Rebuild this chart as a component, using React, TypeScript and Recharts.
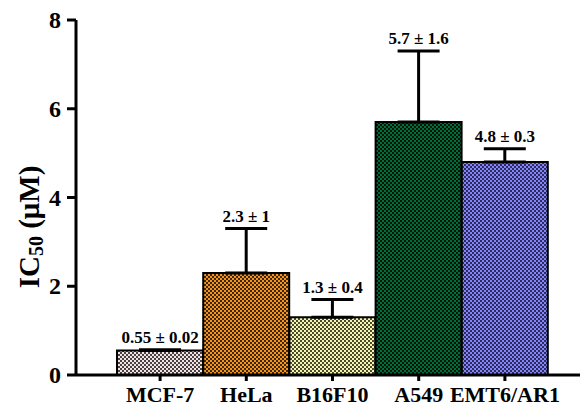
import React from 'react';
import {
  ComposedChart,
  Bar,
  Line,
  XAxis,
  YAxis,
  ErrorBar,
  LabelList,
  Cell,
} from 'recharts';

const cellLines = ['MCF-7', 'HeLa', 'B16F10', 'A549', 'EMT6/AR1'];
const ic50 = [0.55, 2.3, 1.3, 5.7, 4.8];
const sd = [0.02, 1, 0.4, 1.6, 0.3];
const yTicks = [0, 2, 4, 6, 8];

const fills = [
  { bg: '#f0e4e4', dark: '#4a4242' },
  { bg: '#f7941d', dark: '#3c2608' },
  { bg: '#f6f6b4', dark: '#4a4a2c' },
  { bg: '#00703a', dark: '#001408' },
  { bg: '#8484ff', dark: '#2c2c5a' },
];

const data = cellLines.map((name, i) => ({
  name,
  value: ic50[i],
  err: [0, sd[i]],
  top: ic50[i] + sd[i],
  label: `${ic50[i]} ± ${sd[i]}`,
}));

const serif = '"Times New Roman", "Liberation Serif", serif';

const YLabel = () => (
  <text
    x={29}
    y={227}
    transform="rotate(-90 29 227)"
    textAnchor="middle"
    dominantBaseline="central"
    fontFamily={serif}
    fontWeight="bold"
    fontSize={29}
    fill="#000"
  >
    IC
    <tspan fontSize={20} dy={7}>50</tspan>
    <tspan dy={-7}> (μM)</tspan>
  </text>
);

const XTick = (props: any) => {
  const { x, y, payload } = props;
  return (
    <text
      x={x}
      y={y + 21}
      textAnchor="middle"
      fontFamily={serif}
      fontWeight="bold"
      fontSize={22}
      fill="#000"
    >
      {payload.value}
    </text>
  );
};

const YTick = (props: any) => {
  const { x, y, payload } = props;
  return (
    <text
      x={x - 4}
      y={y + 8}
      textAnchor="end"
      fontFamily={serif}
      fontWeight="bold"
      fontSize={24}
      fill="#000"
    >
      {payload.value}
    </text>
  );
};

const ValueLabel = (props: any) => {
  const { x, y, index } = props;
  return (
    <text
      x={x}
      y={y - 7}
      textAnchor="middle"
      fontFamily={serif}
      fontWeight="bold"
      fontSize={17}
      fill="#000"
    >
      {data[index].label}
    </text>
  );
};

export default function App() {
  return (
    <div style={{ position: 'absolute', left: 0, top: 0, background: '#fff' }}>
      <ComposedChart
        width={582}
        height={410}
        data={data}
        barCategoryGap={0}
        margin={{ top: 20, right: 2, bottom: 0, left: 0 }}
      >
        <defs>
          {fills.map((f, i) => (
            <pattern key={i} id={`chk${i}`} width={4} height={4} patternUnits="userSpaceOnUse">
              <rect width={4} height={4} fill={f.bg} />
              <rect x={0} y={0} width={2} height={2} fill={f.dark} />
              <rect x={2} y={2} width={2} height={2} fill={f.dark} />
            </pattern>
          ))}
        </defs>
        <XAxis
          dataKey="name"
          height={35}
          padding={{ left: 41, right: 32 }}
          axisLine={{ stroke: '#000', strokeWidth: 3 }}
          tickLine={{ stroke: '#000', strokeWidth: 3 }}
          tickSize={6}
          tickMargin={0}
          tick={<XTick />}
          interval={0}
        />
        <YAxis
          width={76}
          domain={[0, 8]}
          ticks={yTicks}
          axisLine={{ stroke: '#000', strokeWidth: 3 }}
          tickLine={{ stroke: '#000', strokeWidth: 3 }}
          tickSize={9}
          tickMargin={2}
          tick={<YTick />}
          label={<YLabel />}
        />
        <Bar dataKey="value" stroke="#000" strokeWidth={2} isAnimationActive={false}>
          {data.map((_, i) => (
            <Cell key={i} fill={`url(#chk${i})`} />
          ))}
          <ErrorBar dataKey="err" width={21} stroke="#000" strokeWidth={3} direction="y" />
        </Bar>
        <Line
          dataKey="top"
          stroke="none"
          dot={false}
          activeDot={false}
          isAnimationActive={false}
        >
          <LabelList dataKey="label" content={<ValueLabel />} />
        </Line>
      </ComposedChart>
    </div>
  );
}
